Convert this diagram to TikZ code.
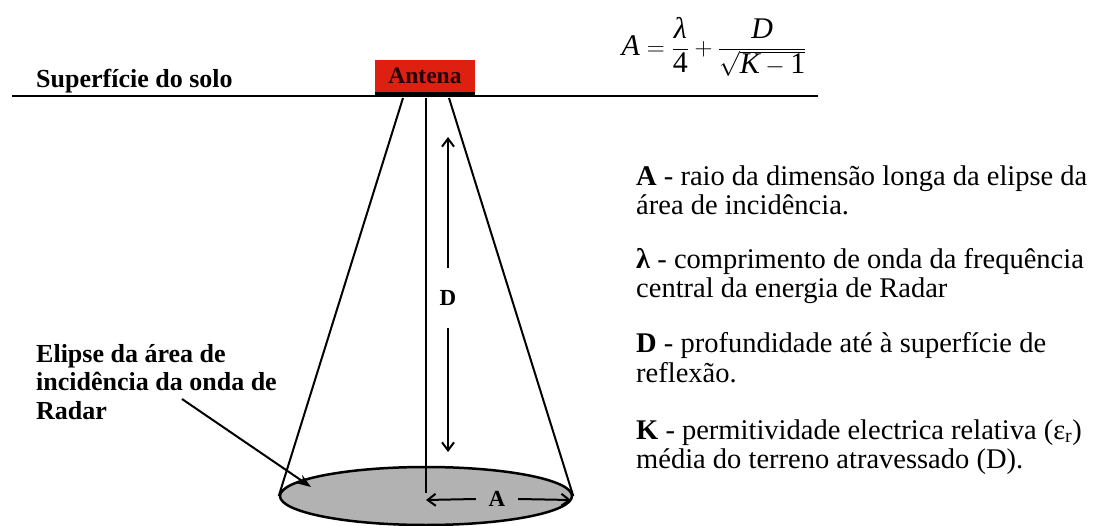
\documentclass[tikz,border=0pt]{standalone}
\usepackage{fontspec}
\setmainfont{Liberation Serif}
\usetikzlibrary{shapes.geometric,arrows.meta}
\definecolor{antred}{RGB}{222,32,16}
\begin{document}
\begin{tikzpicture}[x=1pt,y=1pt,
  lbl/.style={font=\fontsize{26}{28.5}\selectfont\bfseries, inner sep=0pt, align=left, anchor=base west},
  legend/.style={font=\fontsize{28.5}{29}\selectfont, inner sep=0pt, align=left, anchor=base west},
  ln/.style={line width=2pt},
  dimarrow/.style={line width=2pt, -{Straight Barb[length=8pt,width=12pt,line width=2pt]}},
  pointer/.style={line width=2pt, -{Stealth[length=14pt,width=10pt]}},
]
\useasboundingbox (0,0) rectangle (1100,-526);
% ground
\coordinate (gl) at (12,-96);
\coordinate (gr) at (818,-96);
\draw[line width=2.5pt] (gl) -- (gr);
\node[lbl] (solo) at (36,-88) {Superfície do solo};
% antenna
\node[fill=antred, minimum width=100pt, minimum height=32pt, inner sep=0pt,
      font=\fontsize{23.5}{26}\selectfont\bfseries, text=black!85!red] (ant) at (425,-76) {Antena};
\draw[line width=4pt] ([yshift=-2pt]ant.south west) -- ([yshift=-2pt]ant.south east);
% ellipse
\node[ellipse, draw, line width=2.5pt, fill=black!30, minimum width=292pt, minimum height=58pt, inner sep=0pt] (ell) at (426,-496) {};
% cone
\coordinate (ctl) at (403,-98);
\coordinate (ctc) at (426,-98);
\coordinate (ctr) at (449,-98);
\coordinate (ecn) at (426,-493);
\draw[ln] (ctl) -- (ell.west);
\draw[ln] (ctr) -- (ell.east);
\draw[ln] (ctc) -- (ecn);
% D dimension
\coordinate (Dtop) at (448,-137);
\coordinate (Dbot) at (448,-452);
\node[font=\fontsize{23}{25}\selectfont\bfseries, minimum height=60pt, inner sep=0pt] (Dlab) at (448,-298) {D};
\draw[dimarrow] (Dlab.north) -- (Dtop);
\draw[dimarrow] (Dlab.south) -- (Dbot);
% A dimension
\coordinate (Aleft) at (426,-500);
\coordinate (Aright) at (571,-500);
\node[font=\fontsize{23}{25}\selectfont\bfseries, minimum width=42pt, inner sep=0pt] (Alab) at (497,-499) {A};
\draw[dimarrow] (Alab.west) -- (Aleft);
\draw[dimarrow] (Alab.east) -- (Aright);
% ellipse label
\node[lbl] (elab) at (36,-419) {Elipse da área de\\incidência da onda de\\Radar};
\coordinate (pstart) at (182,-399);
\coordinate (pend) at (311,-487);
\draw[pointer] (pstart) -- (pend);
% formula
\node[inner sep=0pt, font=\fontsize{30}{34}\selectfont] (form) at (714,-47)
  {$\displaystyle \mbox{\itshape A} = \frac{\mbox{\itshape λ}}{\mbox{4}} + \frac{\mbox{\itshape D}}{\sqrt{\mbox{\itshape K}-\mbox{1}}}$};
% legend
\node[legend] (legA) at (636,-215) {\textbf{A} - raio da dimensão longa da elipse da\\área de incidência.};
\node[legend] (legL) at (636,-298) {\textbf{λ} - comprimento de onda da frequência\\central da energia de Radar};
\node[legend] (legD) at (636,-382) {\textbf{D} - profundidade até à superfície de\\reflexão.};
\node[legend] (legK) at (636,-468) {\textbf{K} - permitividade electrica relativa (ε\textsubscript{r})\\média do terreno atravessado (D).};
\end{tikzpicture}
\end{document}
